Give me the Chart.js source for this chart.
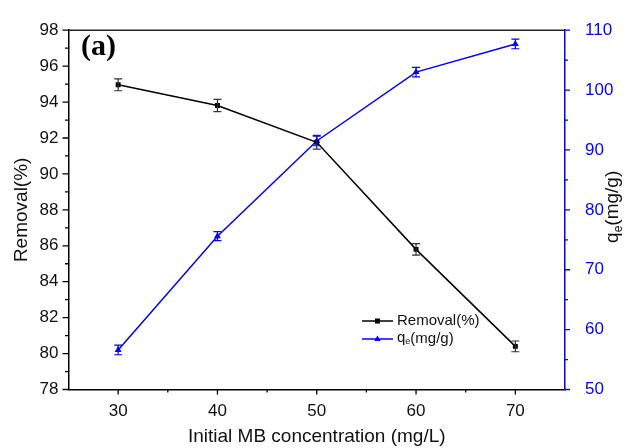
<!DOCTYPE html>
<html>
<head>
<meta charset="utf-8">
<script src="https://cdn.jsdelivr.net/npm/chart.js@4.4.1/dist/chart.umd.min.js"></script>
<style>
  html, body { margin: 0; padding: 0; background: #fff; }
  #wrap { width: 630px; height: 448px; }
</style>
</head>
<body>
<div id="wrap"><canvas id="c" width="630" height="448"></canvas></div>
<script>
// ---- data ----
const concentrations = [30, 40, 50, 60, 70];           // Initial MB concentration (mg/L)
const removal        = [94.96, 93.81, 91.76, 85.8, 80.4];
const removalErr     = [0.33, 0.34, 0.38, 0.32, 0.30];
const qe             = [56.6, 75.6, 91.5, 103.0, 107.7];
const qeErr          = [0.8, 0.75, 0.8, 0.8, 0.8];
const xTicks         = [30, 40, 50, 60, 70];
const xMinorTicks    = [35, 45, 55, 65];
const leftTicks      = [78, 80, 82, 84, 86, 88, 90, 92, 94, 96, 98];
const leftMinorTicks = [79, 81, 83, 85, 87, 89, 91, 93, 95, 97];
const rightTicks     = [50, 60, 70, 80, 90, 100, 110];
const rightMinorTicks= [55, 65, 75, 85, 95, 105];
const seriesNames    = ['Removal(%)', 'q', 'e', '(mg/g)'];
const xTitle = 'Initial MB concentration (mg/L)';
const leftTitle = 'Removal(%)';
const panelLabel = '(a)';

const BLUE = '#0000ff';
const FONT = '"Liberation Sans", Arial, sans-serif';

const extras = {
  id: 'extras',
  afterDatasetsDraw(chart) {
    const ctx = chart.ctx;
    const xs = chart.scales.x;
    chart.data.datasets.forEach((ds) => {
      const ys = chart.scales[ds.yAxisID];
      ctx.save();
      ctx.strokeStyle = ds.errColor;
      ctx.lineWidth = 1.2;
      ds.data.forEach((p, i) => {
        const e = ds.errors[i];
        const px = xs.getPixelForValue(p.x);
        const y1 = ys.getPixelForValue(p.y - e);
        const y2 = ys.getPixelForValue(p.y + e);
        ctx.beginPath();
        ctx.moveTo(px, y1); ctx.lineTo(px, y2);
        ctx.moveTo(px - 4, y1); ctx.lineTo(px + 4, y1);
        ctx.moveTo(px - 4, y2); ctx.lineTo(px + 4, y2);
        ctx.stroke();
      });
      ctx.restore();
    });
  },
  afterDraw(chart) {
    const ctx = chart.ctx;
    const xs = chart.scales.x, yl = chart.scales.y, yr = chart.scales.y1;
    const area = chart.chartArea;
    ctx.save();
    // top frame line
    ctx.strokeStyle = '#222';
    ctx.lineWidth = 1.5;
    ctx.beginPath();
    ctx.moveTo(area.left, area.top); ctx.lineTo(area.right, area.top);
    ctx.stroke();
    // ticks
    ctx.lineWidth = 1.3;
    ctx.strokeStyle = '#000';
    ctx.beginPath();
    xTicks.forEach(v => { const p = xs.getPixelForValue(v); ctx.moveTo(p, area.bottom); ctx.lineTo(p, area.bottom + 5); });
    xMinorTicks.forEach(v => { const p = xs.getPixelForValue(v); ctx.moveTo(p, area.bottom); ctx.lineTo(p, area.bottom + 3); });
    leftTicks.forEach(v => { const p = yl.getPixelForValue(v); ctx.moveTo(area.left, p); ctx.lineTo(area.left - 6, p); });
    leftMinorTicks.forEach(v => { const p = yl.getPixelForValue(v); ctx.moveTo(area.left, p); ctx.lineTo(area.left - 3.5, p); });
    ctx.stroke();
    ctx.strokeStyle = BLUE;
    ctx.beginPath();
    rightTicks.forEach(v => { const p = yr.getPixelForValue(v); ctx.moveTo(area.right, p); ctx.lineTo(area.right + 5, p); });
    rightMinorTicks.forEach(v => { const p = yr.getPixelForValue(v); ctx.moveTo(area.right, p); ctx.lineTo(area.right + 3, p); });
    ctx.stroke();

    // axis titles
    ctx.fillStyle = '#111';
    ctx.font = '19px ' + FONT;
    ctx.textAlign = 'center';
    ctx.textBaseline = 'middle';
    ctx.fillText(xTitle, (area.left + area.right) / 2, 437);
    ctx.save();
    ctx.translate(22, (area.top + area.bottom) / 2);
    ctx.rotate(-Math.PI / 2);
    ctx.fillText(leftTitle, 0, 0);
    ctx.restore();
    // right title q_e(mg/g), reading bottom to top
    ctx.save();
    ctx.translate(613, (area.top + area.bottom) / 2 - 3);
    ctx.rotate(-Math.PI / 2);
    ctx.font = '19px ' + FONT;
    const wq = ctx.measureText(seriesNames[1]).width;
    ctx.font = '12px ' + FONT;
    const we = ctx.measureText(seriesNames[2]).width;
    ctx.font = '19px ' + FONT;
    const wr = ctx.measureText(seriesNames[3]).width;
    let sx = -(wq + we + wr) / 2;
    ctx.textAlign = 'left';
    ctx.fillText(seriesNames[1], sx, 0);
    ctx.font = '12px ' + FONT;
    ctx.fillText(seriesNames[2], sx + wq, 6);
    ctx.font = '19px ' + FONT;
    ctx.fillText(seriesNames[3], sx + wq + we, 0);
    ctx.restore();

    // panel label
    ctx.font = 'bold 30px "Liberation Serif", "Times New Roman", serif';
    ctx.textAlign = 'left';
    ctx.fillStyle = '#000';
    ctx.fillText(panelLabel, 81, 47);

    // legend
    const lx1 = 362, lx2 = 393, ly1 = 321, ly2 = 339;
    ctx.lineWidth = 1.5;
    ctx.strokeStyle = '#000';
    ctx.beginPath(); ctx.moveTo(lx1, ly1); ctx.lineTo(lx2, ly1); ctx.stroke();
    ctx.fillStyle = '#000';
    ctx.fillRect((lx1 + lx2) / 2 - 2.5, ly1 - 2.5, 5, 5);
    ctx.strokeStyle = BLUE;
    ctx.beginPath(); ctx.moveTo(lx1, ly2); ctx.lineTo(lx2, ly2); ctx.stroke();
    ctx.fillStyle = BLUE;
    const cx = (lx1 + lx2) / 2;
    ctx.beginPath(); ctx.moveTo(cx, ly2 - 3.5); ctx.lineTo(cx + 3.2, ly2 + 2); ctx.lineTo(cx - 3.2, ly2 + 2); ctx.closePath(); ctx.fill();
    ctx.fillStyle = '#111';
    ctx.font = '15px ' + FONT;
    ctx.textAlign = 'left';
    ctx.fillText(seriesNames[0], 397, ly1);
    const q1 = ctx.measureText(seriesNames[1]).width;
    ctx.fillText(seriesNames[1], 397, ly2 - 1);
    ctx.font = '9px ' + FONT;
    const e1 = ctx.measureText(seriesNames[2]).width;
    ctx.fillText(seriesNames[2], 397 + q1, ly2 + 3);
    ctx.font = '15px ' + FONT;
    ctx.fillText(seriesNames[3], 397 + q1 + e1, ly2);
    ctx.restore();
  }
};

new Chart(document.getElementById('c'), {
  type: 'line',
  data: {
    datasets: [
      {
        label: seriesNames[0],
        data: concentrations.map((x, i) => ({ x, y: removal[i] })),
        errors: removalErr,
        errColor: '#333',
        yAxisID: 'y',
        borderColor: '#000',
        backgroundColor: '#000',
        borderWidth: 1.5,
        pointStyle: 'rect',
        pointRadius: 3.5,
        pointBorderWidth: 0,
        tension: 0
      },
      {
        label: 'qe(mg/g)',
        data: concentrations.map((x, i) => ({ x, y: qe[i] })),
        errors: qeErr,
        errColor: BLUE,
        yAxisID: 'y1',
        borderColor: BLUE,
        backgroundColor: BLUE,
        borderWidth: 1.5,
        pointStyle: 'triangle',
        pointRadius: 4,
        pointBorderWidth: 0,
        tension: 0
      }
    ]
  },
  options: {
    responsive: false,
    animation: false,
    devicePixelRatio: 1,
    layout: { padding: { top: 21, left: 0, right: 0, bottom: 0 } },
    plugins: { legend: { display: false }, tooltip: { enabled: false } },
    scales: {
      x: {
        type: 'linear', min: 25, max: 75,
        afterBuildTicks: s => { s.ticks = xTicks.map(v => ({ value: v })); },
        afterFit: s => { s.height = 58.5; },
        grid: { display: false, drawTicks: false },
        border: { display: true, color: '#000', width: 1.5 },
        ticks: { color: '#111', font: { family: FONT, size: 17 }, padding: 12, maxRotation: 0 }
      },
      y: {
        position: 'left', min: 78, max: 98,
        afterBuildTicks: s => { s.ticks = leftTicks.map(v => ({ value: v })); },
        afterFit: s => { s.width = 68.5; },
        grid: { display: false, drawTicks: false },
        border: { display: true, color: '#000', width: 1.5 },
        ticks: { color: '#111', font: { family: FONT, size: 17 }, padding: 10 }
      },
      y1: {
        position: 'right', min: 50, max: 110,
        afterBuildTicks: s => { s.ticks = rightTicks.map(v => ({ value: v })); },
        afterFit: s => { s.width = 65; },
        grid: { display: false, drawTicks: false },
        border: { display: true, color: BLUE, width: 1.5 },
        ticks: { color: BLUE, font: { family: FONT, size: 17 }, padding: 20 }
      }
    }
  },
  plugins: [extras]
});
</script>
</body>
</html>
